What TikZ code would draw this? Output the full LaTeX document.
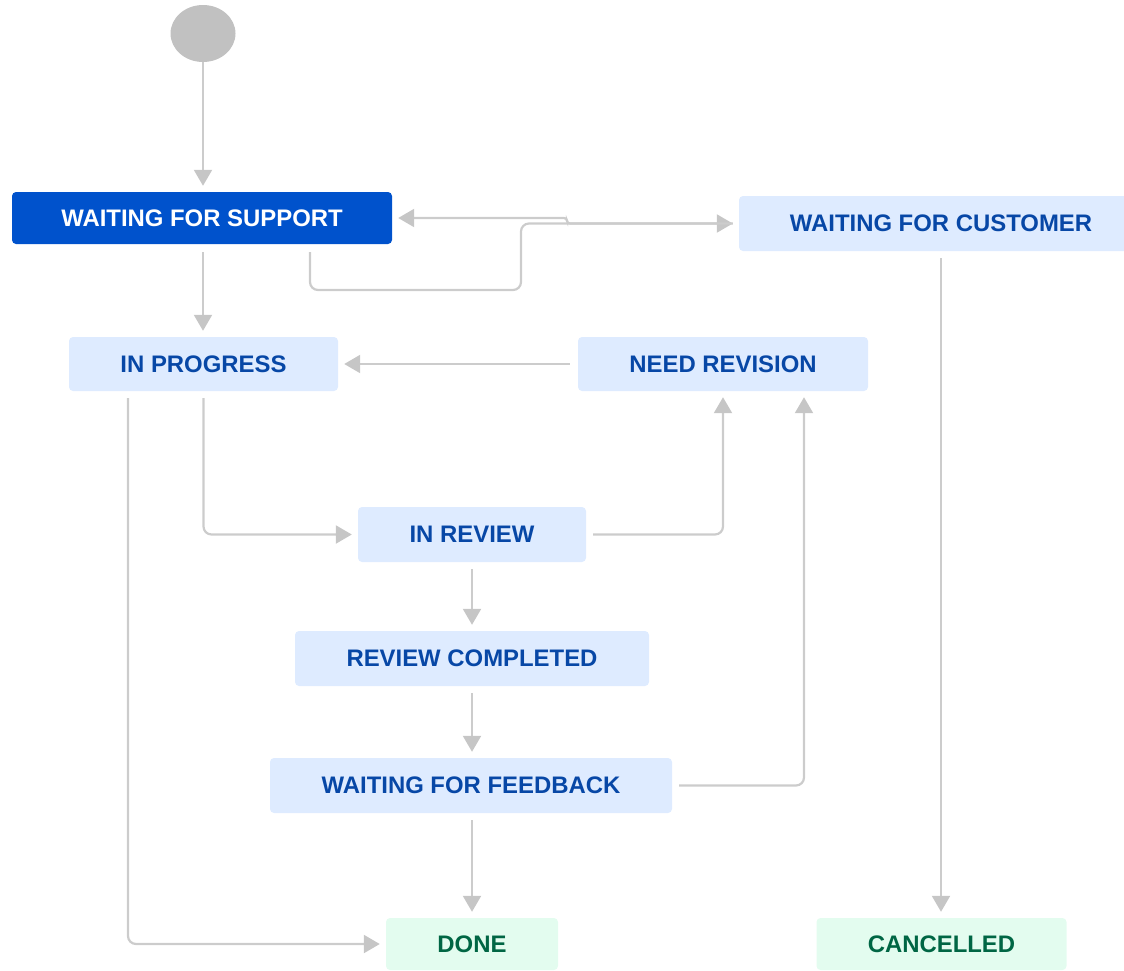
\documentclass[tikz,border=0pt]{standalone}
\usepackage{fontspec}
\setmainfont{Liberation Sans}
\usetikzlibrary{arrows.meta,shapes.geometric}
\definecolor{bdark}{HTML}{0052CC}
\definecolor{blight}{HTML}{DEEBFF}
\definecolor{btext}{HTML}{0747A6}
\definecolor{glight}{HTML}{E3FCEF}
\definecolor{gtext}{HTML}{006644}
\definecolor{lgray}{HTML}{CCCCCC}
\definecolor{agray}{HTML}{C6C6C6}
\definecolor{cgray}{HTML}{C1C1C1}
\tikzset{
  state/.style={rectangle, rounded corners=4pt, inner sep=0pt, font=\fontsize{23.9}{28}\selectfont\bfseries},
  todo/.style={state, fill=blight, text=btext},
  cur/.style={state, fill=bdark, text=white},
  fin/.style={state, fill=glight, text=gtext},
  conn/.style={draw=lgray, line width=2.2pt, -{Triangle[width=18pt,length=16pt,fill=agray,color=agray]}, shorten <=7pt, shorten >=6pt},
}
\begin{document}
\begin{tikzpicture}[x=1pt,y=-1pt]
\useasboundingbox (0,0) rectangle (1124,970);
\node[ellipse, fill=cgray, minimum width=65pt, minimum height=57pt, inner sep=0pt] (start) at (203,33.5) {};
\node[cur, minimum width=380pt, minimum height=52pt] (ws) at (202,218) {WAITING FOR SUPPORT};
\node[todo, minimum width=404pt, minimum height=55pt] (wfc) at (941,223.5) {WAITING FOR CUSTOMER};
\node[todo, minimum width=269pt, minimum height=54pt] (ip) at (203.5,364) {IN PROGRESS};
\node[todo, minimum width=290pt, minimum height=54pt] (nr) at (723,364) {NEED REVISION};
\node[todo, minimum width=228pt, minimum height=55pt] (ir) at (472,534.5) {IN REVIEW};
\node[todo, minimum width=354pt, minimum height=55pt] (rc) at (472,658.5) {REVIEW COMPLETED};
\node[todo, minimum width=402pt, minimum height=55pt] (wff) at (471,785.5) {WAITING FOR FEEDBACK};
\node[fin, minimum width=172pt, minimum height=52pt] (done) at (472,944) {DONE};
\node[fin, minimum width=250pt, minimum height=52pt] (canc) at (941.5,944) {CANCELLED};
\coordinate (c1) at (521,290);
\coordinate (c2) at (567,218);

\draw[conn, shorten <=0pt] (start.south) -- (start.south |- ws.north);
\draw[conn, shorten <=8pt] (start.south |- ws.south) -- (start.south |- ip.north);
\draw[conn, rounded corners=8pt, shorten <=8pt] ([xshift=108pt]ws.south) |- (c1) |- (wfc.west);
\draw[conn, rounded corners=3pt, shorten <=6pt] (wfc.west) -| (c2) -- (ws.east);
\draw[conn, shorten <=8pt] (nr.west) -- (ip.east);
\draw[conn, rounded corners=8pt] (ip.south) |- (ir.west);
\draw[conn, rounded corners=8pt] (ir.east) -| (nr.south);
\draw[conn] (ir.south) -- (rc.north);
\draw[conn] (rc.south) -- (rc.south |- wff.north);
\draw[conn, rounded corners=8pt] (wff.east) -| ([xshift=81pt]nr.south);
\draw[conn] (rc.south |- wff.south) -- (rc.south |- done.north);
\draw[conn, rounded corners=8pt] ([xshift=-75.5pt]ip.south) |- (done.west);
\draw[conn] (wfc.south) -- (wfc.south |- canc.north);
\end{tikzpicture}
\end{document}
